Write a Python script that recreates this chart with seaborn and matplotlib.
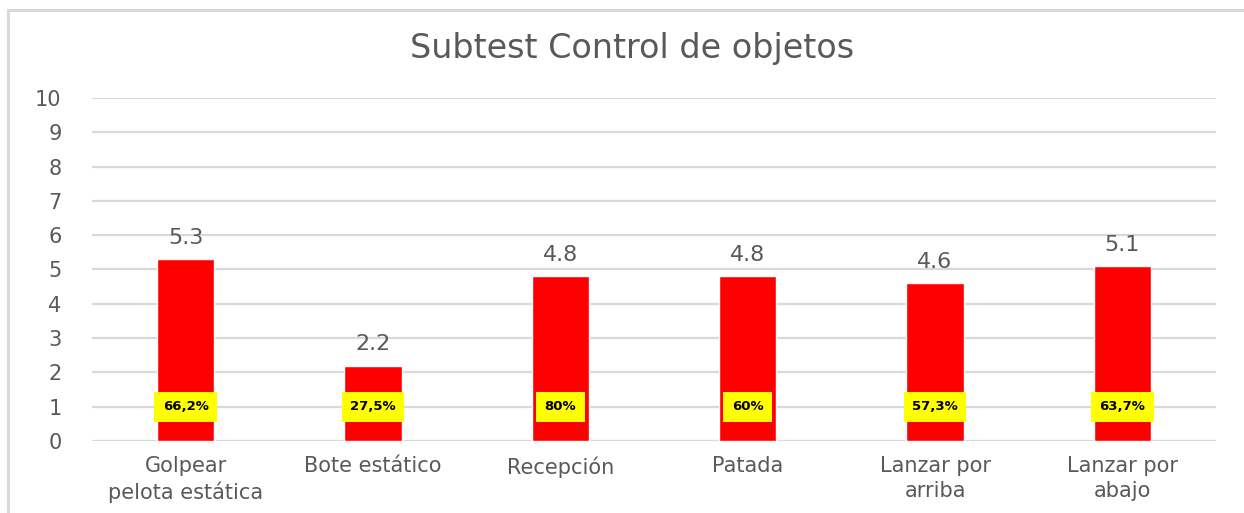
import matplotlib
matplotlib.use("Agg")
import matplotlib.pyplot as plt
import seaborn as sns
import pandas as pd
from matplotlib.lines import Line2D

# datos
categorias = ["Golpear\npelota estática", "Bote estático", "Recepción",
              "Patada", "Lanzar por\narriba", "Lanzar por\nabajo"]
medias = [5.3, 2.2, 4.8, 4.8, 4.6, 5.1]
porcentajes = ["66,2%", "27,5%", "80%", "60%", "57,3%", "63,7%"]
titulo = "Subtest Control de objetos"

df = pd.DataFrame({"categoria": categorias, "media": medias})

sns.set_theme(style="white")
plt.rcParams['font.family'] = ['DejaVu Sans']

gris = "#595959"
fig = plt.figure(figsize=(12.44, 5.13), dpi=100)
ax = fig.add_axes([0.074, 0.1404, 0.9035, 0.6686])

sns.barplot(data=df, x="categoria", y="media", color="#ff0000",
            saturation=1, width=0.305, ax=ax, zorder=3)

ax.set_ylim(0, 10)
ax.set_xlim(-0.5, len(categorias) - 0.5)
ax.set_yticks(range(0, 11))
ax.yaxis.grid(True, color="#d9d9d9", linewidth=1.6, zorder=0)
ax.set_axisbelow(True)
for s in ax.spines.values():
    s.set_visible(False)
ax.set_xlabel("")
ax.set_ylabel("")
ax.tick_params(axis="both", length=0, colors=gris, labelsize=15)
ax.tick_params(axis="y", pad=22)
ax.tick_params(axis="x", pad=11)
for lbl in ax.get_xticklabels():
    lbl.set_linespacing(1.3)

# valores encima de las barras
for i, v in enumerate(medias):
    ax.annotate(f"{v:.1f}", (i, v), xytext=(0, 8), textcoords="offset points",
                ha="center", va="bottom", fontsize=16, color=gris)

# porcentajes en recuadro amarillo
for i, p in enumerate(porcentajes):
    ax.text(i, 1.0, p, ha="center", va="center", fontsize=9.5, fontweight="bold",
            color="black", zorder=5,
            bbox=dict(boxstyle="square,pad=0.65", facecolor="#ffff00", edgecolor="none"))

fig.text(0.508, 0.905, titulo, ha="center", va="center", fontsize=24, color=gris)

# marco del gráfico (solo borde superior e izquierdo visibles)
x0, y0 = 8 / 1244, 1 - 10 / 513
fig.add_artist(Line2D([x0, 1.0], [y0, y0], transform=fig.transFigure,
                      color="#d9d9d9", linewidth=2.2))
fig.add_artist(Line2D([x0, x0], [0.0, y0], transform=fig.transFigure,
                      color="#d9d9d9", linewidth=2.2))

fig.savefig("out.png", dpi=100)
